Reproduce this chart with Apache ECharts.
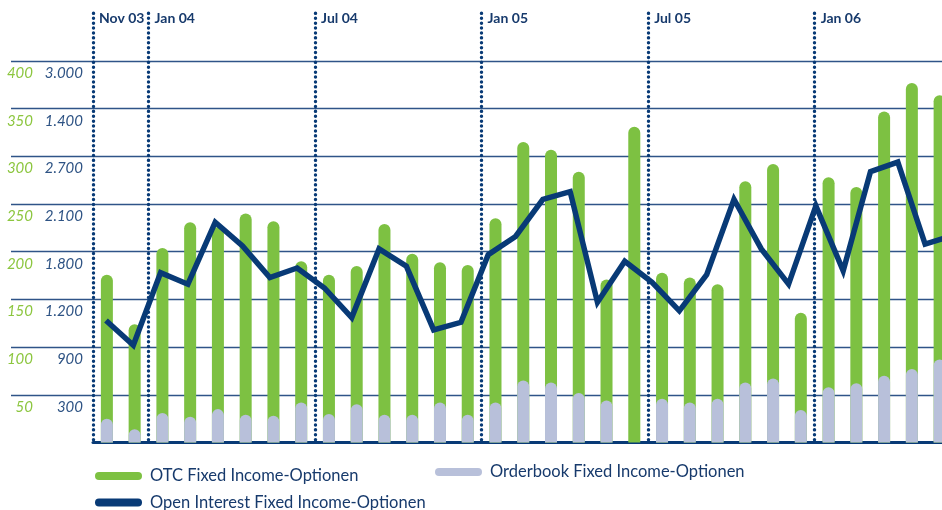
<!DOCTYPE html>
<html>
<head>
<meta charset="utf-8">
<title>Fixed Income-Optionen</title>
<script src="https://cdn.jsdelivr.net/npm/echarts@6/dist/echarts.min.js"></script>
<style>
	html, body { margin: 0; padding: 0; background: #fff; }
	#chart { width: 942px; height: 510px; }
</style>
</head>
<body>
<div id="chart"></div>
<script>
// Monate Nov 03 - Mai 06
const months = [
	'Nov 03', 'Dez 03',
	'Jan 04', 'Feb 04', 'Mär 04', 'Apr 04', 'Mai 04', 'Jun 04',
	'Jul 04', 'Aug 04', 'Sep 04', 'Okt 04', 'Nov 04', 'Dez 04',
	'Jan 05', 'Feb 05', 'Mär 05', 'Apr 05', 'Mai 05', 'Jun 05',
	'Jul 05', 'Aug 05', 'Sep 05', 'Okt 05', 'Nov 05', 'Dez 05',
	'Jan 06', 'Feb 06', 'Mär 06', 'Apr 06', 'Mai 06',
]
const periodMarks = ['Nov 03', 'Jan 04', 'Jul 04', 'Jan 05', 'Jul 05', 'Jan 06']

const otc = [176, 124, 204, 231, 226, 240, 232, 190, 176, 185, 229, 198, 189, 186, 235, 315,
	307, 284, 171, 331, 178, 173, 166, 274, 292, 136, 278, 268, 347, 377, 364]
const orderbook = [25, 14, 31, 27, 35, 29, 28, 42, 30, 40, 29, 29, 42, 29, 42, 65,
	63, 52, 44, null, 46, 42, 46, 63, 67, 34, 58, 62, 70, 77, 87]
// Open Interest, in Einheiten der linken Skala (laeuft rechts aus dem Bild)
const openInterest = [128, 102, 178, 166, 231, 206, 173, 183, 162, 131, 203, 185, 118, 126, 197, 216,
	255, 263, 147, 190, 168, 138, 176, 255, 203, 166, 248, 180, 284, 294, 208, 217]

const otcTicks = [50, 100, 150, 200, 250, 300, 350, 400]
const oiTickLabels = ['300', '900', '1.200', '1.800', '2.100', '2.700', '1.400', '3.000']

const NAVY = '#083a76'
const GRID = '#2f5488'
const GREEN = '#7dc142'
const LILAC = '#b8c0da'
const TEXT = '#173a6c'

const chart = echarts.init(document.getElementById('chart'))

const pill = 'path://M4,0L43,0A4,4,0,0,1,43,8L4,8A4,4,0,0,1,4,0Z'
const legendBase = {
	icon: pill,
	itemWidth: 47,
	itemHeight: 8,
	padding: 0,
	selectedMode: false,
	textStyle: { color: TEXT, fontSize: 16.5, fontFamily: 'Lato', padding: [0, 0, 0, 3] },
}

chart.setOption({
	animation: false,
	legend: [
		{ ...legendBase, data: ['OTC Fixed Income-Optionen'], left: 95, top: 467.5 },
		{ ...legendBase, data: ['Orderbook Fixed Income-Optionen'], left: 435, top: 463.5 },
		{ ...legendBase, data: ['Open Interest Fixed Income-Optionen'], left: 95, top: 494 },
	],
	grid: [
		{ left: 11, top: 13.3, width: 82, height: 429.2, outerBoundsMode: 'none' },
		{ left: 93, top: 13.3, width: 860.5, height: 429.2, outerBoundsMode: 'none' },
	],
	xAxis: [
		{ gridIndex: 0, type: 'value', min: 0, max: 1, show: false },
		{
			gridIndex: 1,
			type: 'category',
			data: months,
			position: 'bottom',
			axisLine: { lineStyle: { color: NAVY, width: 3 } },
			axisTick: { show: false },
			axisLabel: { show: false },
		},
		{
			// Periodengrenzen oben
			gridIndex: 1,
			type: 'category',
			data: [...months, 'Jun 06'],
			boundaryGap: false,
			position: 'top',
			axisLine: { show: false },
			axisTick: { show: false },
			axisLabel: {
				interval: 0,
				formatter: (v) => (periodMarks.includes(v) ? v : ''),
				align: 'left',
				verticalAlign: 'middle',
				margin: -5,
				padding: [0, 0, 0, 6],
				color: TEXT,
				fontWeight: 'bold',
				fontSize: 14,
				fontFamily: 'Lato',
			},
			splitLine: {
				show: true,
				interval: (i, v) => periodMarks.includes(v),
				lineStyle: { color: NAVY, width: 3.4, type: [0.1, 4.8], cap: 'round' },
			},
		},
		{ gridIndex: 1, type: 'value', min: -0.476, max: 31.04, show: false },
	],
	yAxis: [
		{
			gridIndex: 0,
			type: 'value',
			min: 0,
			max: 450,
			interval: 50,
			position: 'left',
			axisLine: { show: false },
			axisTick: { show: false },
			axisLabel: {
				margin: -22,
				verticalAlign: 'top',
				lineHeight: 24,
				color: '#8cc63f',
				fontStyle: 'italic',
				fontSize: 15,
				fontFamily: 'Lato',
				formatter: (v) => (otcTicks.includes(v) ? String(v) : ''),
			},
			splitLine: { show: true, showMinLine: false, showMaxLine: false, lineStyle: { color: GRID, width: 1.3 } },
		},
		{
			gridIndex: 0,
			type: 'value',
			min: 0,
			max: 450,
			interval: 50,
			position: 'right',
			axisLine: { show: false },
			axisTick: { show: false },
			splitLine: { show: false },
			axisLabel: {
				margin: -10,
				align: 'right',
				verticalAlign: 'top',
				lineHeight: 24,
				color: '#2e5384',
				fontStyle: 'italic',
				fontSize: 15,
				fontFamily: 'Lato',
				formatter: (v) => oiTickLabels[v / 50 - 1] || '',
			},
		},
		{
			gridIndex: 1,
			type: 'value',
			min: 0,
			max: 450,
			interval: 50,
			axisLine: { show: false },
			axisTick: { show: false },
			axisLabel: { show: false },
			splitLine: { show: true, showMinLine: false, showMaxLine: false, lineStyle: { color: GRID, width: 1.3 } },
		},
	],
	series: [
		{
			name: 'OTC Fixed Income-Optionen',
			type: 'bar',
			xAxisIndex: 1,
			yAxisIndex: 2,
			data: otc,
			barWidth: 12,
			barGap: '-100%',
			color: GREEN,
			itemStyle: { borderRadius: [6, 6, 0, 0] },
		},
		{
			name: 'Orderbook Fixed Income-Optionen',
			type: 'bar',
			xAxisIndex: 1,
			yAxisIndex: 2,
			data: orderbook,
			barWidth: 12,
			barGap: '-100%',
			color: LILAC,
			itemStyle: { borderRadius: [6, 6, 0, 0] },
		},
		{
			name: 'Open Interest Fixed Income-Optionen',
			type: 'line',
			xAxisIndex: 3,
			yAxisIndex: 2,
			data: openInterest.map((v, i) => [i, v]),
			color: NAVY,
			symbol: 'none',
			z: 5,
			lineStyle: { color: NAVY, width: 5.5, join: 'miter' },
		},
	],
})
</script>
</body>
</html>
